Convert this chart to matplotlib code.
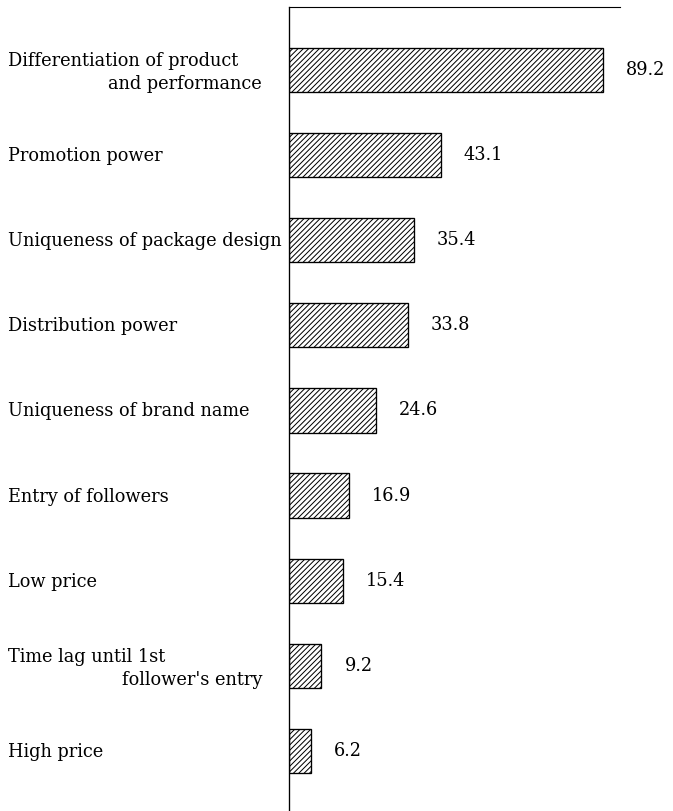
import matplotlib
matplotlib.use("Agg")
import matplotlib.pyplot as plt
import matplotlib.transforms as mtransforms

categories = [
    "Differentiation of product\nand performance",
    "Promotion power",
    "Uniqueness of package design",
    "Distribution power",
    "Uniqueness of brand name",
    "Entry of followers",
    "Low price",
    "Time lag until 1st\nfollower's entry",
    "High price",
]
values = [89.2, 43.1, 35.4, 33.8, 24.6, 16.9, 15.4, 9.2, 6.2]
value_labels = ["89.2", "43.1", "35.4", "33.8", "24.6", "16.9", "15.4", "9.2", "6.2"]

DPI = 80
W, H = 673, 811
fig = plt.figure(figsize=(W / DPI, H / DPI), dpi=DPI)
plt.rcParams['hatch.linewidth'] = 0.9

ax = fig.add_axes([289 / W, 0, (620 - 289) / W, (H - 7) / H])
FONT = dict(family=["DejaVu Serif"], size=16)

ypos = list(range(len(values)))
ax.barh(ypos, values, height=0.52, color="white", edgecolor="black",
        linewidth=1.2, hatch="/////", left=0)

ax.set_xlim(0, 94)
ax.set_ylim(8.705, -0.74)
for s in ["right", "bottom"]:
    ax.spines[s].set_visible(False)
ax.spines["left"].set_linewidth(1.2)
ax.spines["top"].set_linewidth(1.0)
ax.set_xticks([])
ax.set_yticks([])

# value labels
for y, v, lab in zip(ypos, values, value_labels):
    ax.annotate(lab, xy=(v, y), xytext=(23 * 72 / DPI, 0), textcoords="offset points",
                ha="left", va="center", **FONT)

# category labels (figure x, data y)
trans = mtransforms.blended_transform_factory(fig.transFigure, ax.transData)
px = 1.0 / 85.1
for y, cat in zip(ypos, categories):
    lines = cat.split("\n")
    if len(lines) == 1:
        ax.text(8 / W, y + 6 * px, lines[0], transform=trans, ha="left",
                va="baseline", **FONT)
    else:
        ax.text(8 / W, y - 4 * px, lines[0], transform=trans, ha="left",
                va="baseline", **FONT)
        ax.text(262 / W, y + 19 * px, lines[1], transform=trans, ha="right",
                va="baseline", **FONT)

fig.savefig("out.png", dpi=DPI)
